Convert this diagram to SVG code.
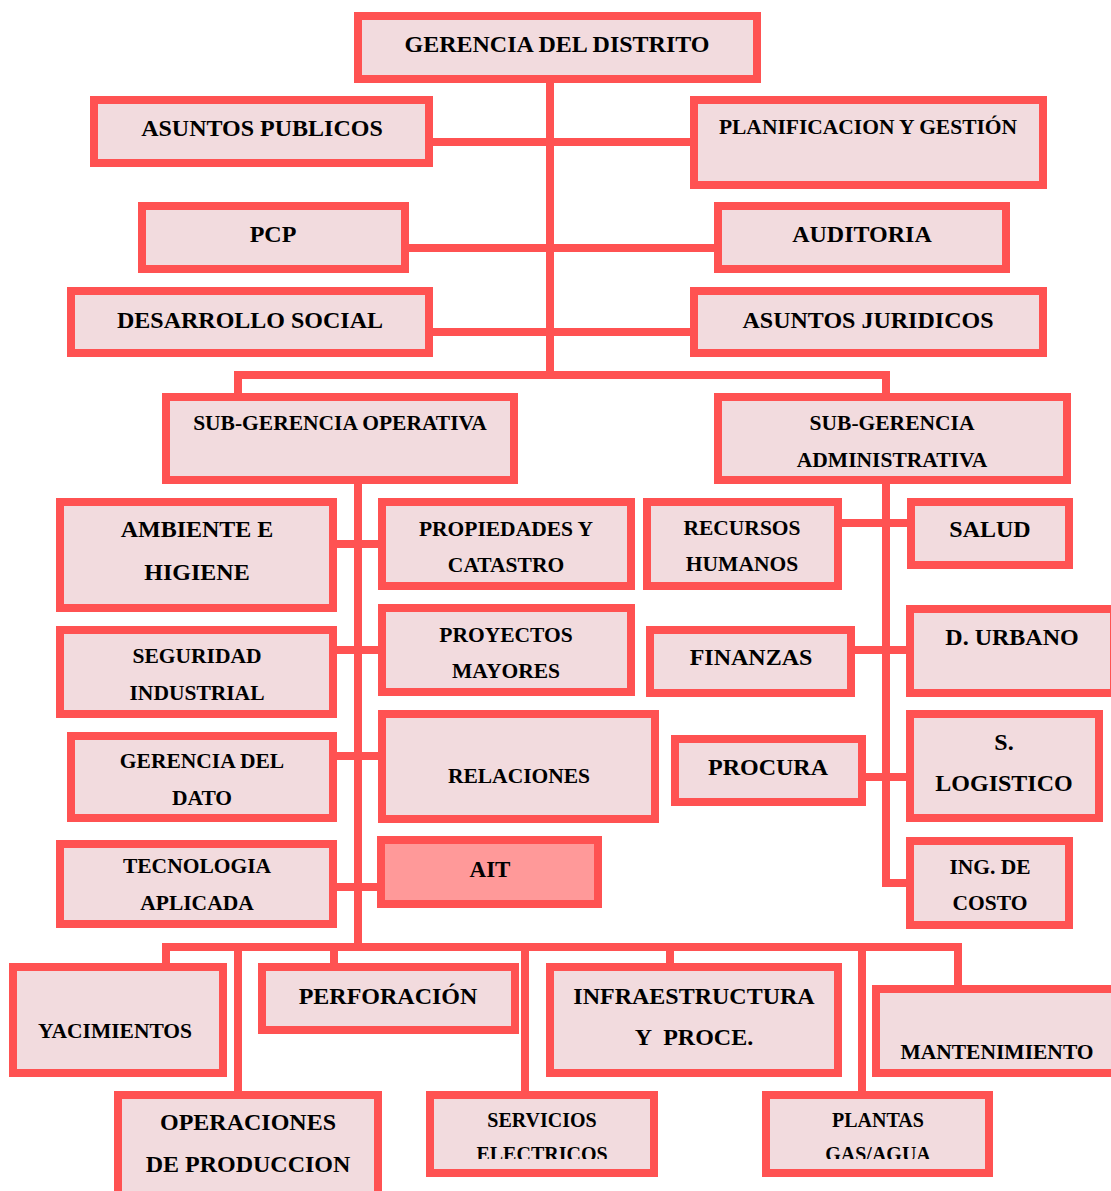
<svg xmlns="http://www.w3.org/2000/svg" width="1111" height="1191" viewBox="0 0 1111 1191">
  <style>
    .box { fill: #F2DBDE; stroke: #FF5252; stroke-width: 8; }
    .hot { fill: #FF9999; }
    .ln { stroke: #FF5252; stroke-width: 8; fill: none; stroke-linecap: square; }
    text { font-family: "Liberation Serif", "Times New Roman", serif; font-weight: bold; fill: #000; text-anchor: middle; }
    .f24 { font-size: 24px; }
    .f23 { font-size: 23px; }
    .f21 { font-size: 21.5px; }
    .f20 { font-size: 20px; }
  </style>
  <defs>
    <clipPath id="clipLow">
      <rect x="0" y="0" width="1111" height="1159"/>
    </clipPath>
  </defs>
  <rect x="0" y="0" width="1111" height="1191" fill="#FFFFFF"/>

  <!-- connectors -->
  <g id="connectors">
    <!-- main trunk and staff offices -->
    <line class="ln" x1="550" y1="83" x2="550" y2="375"/>
    <line class="ln" x1="433" y1="142" x2="690" y2="142"/>
    <line class="ln" x1="409" y1="248" x2="714" y2="248"/>
    <line class="ln" x1="433" y1="332" x2="690" y2="332"/>
    <!-- split to the two sub-managements -->
    <polyline class="ln" points="238,393 238,375 886,375 886,393"/>
    <!-- operations branch -->
    <line class="ln" x1="358" y1="484" x2="358" y2="946"/>
    <line class="ln" x1="337" y1="544" x2="378" y2="544"/>
    <line class="ln" x1="337" y1="650" x2="378" y2="650"/>
    <line class="ln" x1="337" y1="756" x2="378" y2="756"/>
    <line class="ln" x1="337" y1="887" x2="377" y2="887"/>
    <!-- administration branch -->
    <polyline class="ln" points="886,484 886,883 906,883"/>
    <line class="ln" x1="842" y1="523" x2="907" y2="523"/>
    <line class="ln" x1="855" y1="650" x2="906" y2="650"/>
    <line class="ln" x1="866" y1="777" x2="906" y2="777"/>
    <!-- bottom row -->
    <line class="ln" x1="166" y1="947" x2="958" y2="947"/>
    <line class="ln" x1="166" y1="947" x2="166" y2="963"/>
    <line class="ln" x1="238" y1="947" x2="238" y2="1091"/>
    <line class="ln" x1="334" y1="947" x2="334" y2="963"/>
    <line class="ln" x1="525" y1="947" x2="525" y2="1091"/>
    <line class="ln" x1="670" y1="947" x2="670" y2="963"/>
    <line class="ln" x1="862" y1="947" x2="862" y2="1091"/>
    <line class="ln" x1="958" y1="947" x2="958" y2="985"/>
  </g>

  <g id="gerencia-distrito">
    <rect class="box" x="358" y="16" width="399" height="63"/>
    <text class="f24" x="557" y="52">GERENCIA DEL DISTRITO</text>
  </g>
  <g id="asuntos-publicos">
    <rect class="box" x="94" y="100" width="335" height="63"/>
    <text class="f24" x="262" y="136">ASUNTOS PUBLICOS</text>
  </g>
  <g id="planificacion">
    <rect class="box" x="694" y="100" width="349" height="85"/>
    <text class="f21" x="868" y="134">PLANIFICACION Y GESTIÓN</text>
  </g>
  <g id="pcp">
    <rect class="box" x="142" y="206" width="263" height="63"/>
    <text class="f24" x="273" y="242">PCP</text>
  </g>
  <g id="auditoria">
    <rect class="box" x="718" y="206" width="288" height="63"/>
    <text class="f24" x="862" y="242">AUDITORIA</text>
  </g>
  <g id="desarrollo-social">
    <rect class="box" x="71" y="291" width="358" height="62"/>
    <text class="f24" x="250" y="328">DESARROLLO SOCIAL</text>
  </g>
  <g id="asuntos-juridicos">
    <rect class="box" x="694" y="291" width="349" height="62"/>
    <text class="f24" x="868" y="328">ASUNTOS JURIDICOS</text>
  </g>
  <g id="sub-operativa">
    <rect class="box" x="166" y="397" width="348" height="83"/>
    <text class="f21" x="340" y="430">SUB-GERENCIA OPERATIVA</text>
  </g>
  <g id="sub-administrativa">
    <rect class="box" x="718" y="397" width="349" height="83"/>
    <text class="f21" x="892" y="430">SUB-GERENCIA</text>
    <text class="f21" x="892" y="467">ADMINISTRATIVA</text>
  </g>
  <g id="ambiente">
    <rect class="box" x="60" y="502" width="273" height="106"/>
    <text class="f24" x="197" y="537">AMBIENTE E</text>
    <text class="f24" x="197" y="580">HIGIENE</text>
  </g>
  <g id="propiedades">
    <rect class="box" x="382" y="502" width="249" height="84"/>
    <text class="f21" x="506" y="536">PROPIEDADES Y</text>
    <text class="f21" x="506" y="572">CATASTRO</text>
  </g>
  <g id="recursos-humanos">
    <rect class="box" x="647" y="502" width="191" height="84"/>
    <text class="f21" x="742" y="535">RECURSOS</text>
    <text class="f21" x="742" y="571">HUMANOS</text>
  </g>
  <g id="salud">
    <rect class="box" x="911" y="502" width="158" height="63"/>
    <text class="f24" x="990" y="537">SALUD</text>
  </g>
  <g id="seguridad">
    <rect class="box" x="60" y="630" width="273" height="84"/>
    <text class="f21" x="197" y="663">SEGURIDAD</text>
    <text class="f21" x="197" y="700">INDUSTRIAL</text>
  </g>
  <g id="proyectos">
    <rect class="box" x="382" y="608" width="249" height="84"/>
    <text class="f21" x="506" y="642">PROYECTOS</text>
    <text class="f21" x="506" y="678">MAYORES</text>
  </g>
  <g id="finanzas">
    <rect class="box" x="650" y="630" width="201" height="63"/>
    <text class="f24" x="751" y="665">FINANZAS</text>
  </g>
  <g id="d-urbano">
    <rect class="box" x="910" y="609" width="204" height="84"/>
    <text class="f24" x="1012" y="645">D. URBANO</text>
  </g>
  <g id="gerencia-dato">
    <rect class="box" x="71" y="736" width="262" height="82"/>
    <text class="f21" x="202" y="768">GERENCIA DEL</text>
    <text class="f21" x="202" y="805">DATO</text>
  </g>
  <g id="relaciones">
    <rect class="box" x="382" y="714" width="273" height="105"/>
    <text class="f21" x="519" y="783">RELACIONES</text>
  </g>
  <g id="procura">
    <rect class="box" x="675" y="739" width="187" height="63"/>
    <text class="f24" x="768" y="775">PROCURA</text>
  </g>
  <g id="s-logistico">
    <rect class="box" x="910" y="714" width="189" height="104"/>
    <text class="f24" x="1004" y="750">S.</text>
    <text class="f24" x="1004" y="791">LOGISTICO</text>
  </g>
  <g id="tecnologia">
    <rect class="box" x="60" y="844" width="273" height="80"/>
    <text class="f21" x="197" y="873">TECNOLOGIA</text>
    <text class="f21" x="197" y="910">APLICADA</text>
  </g>
  <g id="ait">
    <rect class="box hot" x="381" y="840" width="217" height="64"/>
    <text class="f23" x="490" y="877">AIT</text>
  </g>
  <g id="ing-costo">
    <rect class="box" x="910" y="841" width="159" height="84"/>
    <text class="f21" x="990" y="874">ING. DE</text>
    <text class="f21" x="990" y="910">COSTO</text>
  </g>
  <g id="yacimientos">
    <rect class="box" x="13" y="967" width="210" height="106"/>
    <text class="f21" x="115" y="1038">YACIMIENTOS</text>
  </g>
  <g id="perforacion">
    <rect class="box" x="262" y="967" width="253" height="63"/>
    <text class="f24" x="388" y="1004">PERFORACIÓN</text>
  </g>
  <g id="infraestructura">
    <rect class="box" x="550" y="967" width="288" height="106"/>
    <text class="f24" x="694" y="1004">INFRAESTRUCTURA</text>
    <text class="f24" x="694" y="1045" xml:space="preserve">Y  PROCE.</text>
  </g>
  <g id="mantenimiento">
    <rect class="box" x="876" y="989" width="240" height="84"/>
    <text class="f21" x="997" y="1059">MANTENIMIENTO</text>
  </g>
  <g id="operaciones">
    <rect class="box" x="118" y="1095" width="260" height="110"/>
    <text class="f24" x="248" y="1130">OPERACIONES</text>
    <text class="f24" x="248" y="1172">DE PRODUCCION</text>
  </g>
  <g id="servicios">
    <rect class="box" x="430" y="1095" width="224" height="78"/>
    <text class="f20" x="542" y="1127">SERVICIOS</text>
    <text class="f20" x="542" y="1161" clip-path="url(#clipLow)">ELECTRICOS</text>
  </g>
  <g id="plantas">
    <rect class="box" x="766" y="1095" width="223" height="78"/>
    <text class="f20" x="878" y="1127">PLANTAS</text>
    <text class="f20" x="878" y="1161" clip-path="url(#clipLow)">GAS/AGUA</text>
  </g>
</svg>
